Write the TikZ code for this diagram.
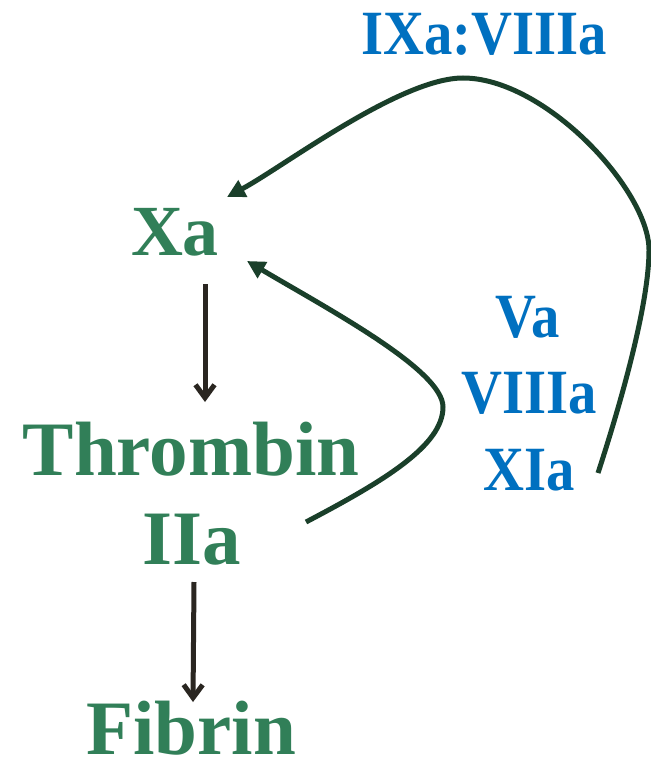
\documentclass[tikz,border=0pt]{standalone}
\usepackage{fontspec}
\setmainfont{Liberation Serif}
\newfontfamily\cofactorfont[FakeStretch=0.9]{Liberation Serif}
\usetikzlibrary{arrows.meta}

\definecolor{enzgreen}{HTML}{317F58}
\definecolor{cofblue}{HTML}{0070C0}
\definecolor{loopgreen}{HTML}{1A3F2A}
\definecolor{stepdark}{HTML}{2A2621}

\tikzset{
  enzyme/.style={text=enzgreen, anchor=base, inner sep=0pt,
    font=\fontsize{77}{80}\selectfont\bfseries},
  cofactor/.style={text=cofblue, anchor=base, inner sep=0pt,
    font=\cofactorfont\fontsize{63}{66}\selectfont\bfseries},
  cascade/.style={draw=stepdark, line width=5pt,
    -{Straight Barb[length=13pt, width=19pt]}},
  feedback/.style={draw=loopgreen, line width=5pt,
    -{Triangle[length=18pt, width=18pt]}}
}

\begin{document}
\begin{tikzpicture}[x=1pt, y=-1pt]
  \fill[white] (0,0) rectangle (650,759);
  \useasboundingbox (0,0) rectangle (650,759);

  % main cascade
  \node[enzyme, font=\fontsize{72}{75}\selectfont\bfseries] (xa) at (175,255) {Xa};
  \node[enzyme] (thrombin) at (191,475) {Thrombin};
  \node[enzyme] (iia) at (192,564) {IIa};
  \node[enzyme] (fibrin) at (191,754) {Fibrin};

  % cofactors
  \node[cofactor] (tenase) at (484,55) {IXa:VIIIa};
  \node[cofactor] (va) at (528,337) {Va};
  \node[cofactor] (viiia) at (529,413) {VIIIa};
  \node[cofactor] (xia) at (529,490) {XIa};

  % connector ends
  \coordinate (xa-out) at (205,284);
  \coordinate (thr-in) at (205,402);
  \coordinate (iia-out) at (194,582);
  \coordinate (fib-in) at (193,702);
  \coordinate (iia-loop) at (306,522);
  \coordinate (xa-loop) at (247,261);
  \coordinate (xia-loop) at (598,473);
  \coordinate (xa-top) at (227,197);

  % straight steps
  \draw[cascade] (xa-out) -- (thr-in);
  \draw[cascade] (iia-out) -- (fib-in);

  % thrombin feedback onto Xa
  \draw[feedback] (iia-loop)
    .. controls (386,480) and (443,445) .. (443,407)
    .. controls (443,370) and (328,309) .. (xa-loop);

  % long feedback loop past IXa:VIIIa
  \draw[feedback] (xia-loop)
    .. controls (625,390) and (649,300) .. (649,250)
    .. controls (649,190) and (545,78) .. (463,78)
    .. controls (400,78) and (283,167) .. (xa-top);
\end{tikzpicture}
\end{document}
